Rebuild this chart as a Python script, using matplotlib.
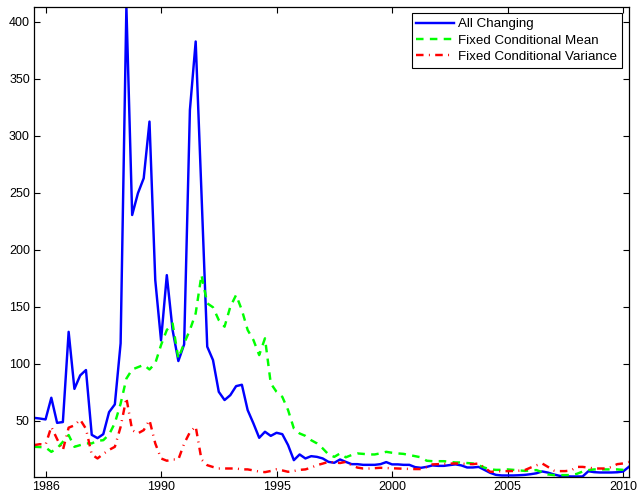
import numpy as np
import matplotlib
matplotlib.use('Agg')
import matplotlib.pyplot as plt

plt.rcParams['font.family'] = ['Liberation Sans', 'DejaVu Sans']

# quarterly series, first quarter 1984.5
start_year = 1984.5
all_changing = [52.6, 52, 51.2, 70.2, 48.2, 48.9, 128, 78, 89.8, 94.5,
                37.7, 34.8, 38.3, 57.6, 64.4, 117.9, 413, 230.4, 249.5, 262.6,
                312.3, 173.4, 120.5, 177.7, 129.6, 102.4, 117, 322.5, 382.5, 250,
                115, 103.2, 75.4, 68.2, 72.5, 80.4, 81.6, 59.4, 47.7, 35.1,
                40.4, 36.8, 39.5, 38.3, 28.7, 15.5, 20.5, 17, 19, 18.4,
                17, 14, 13.2, 16.1, 14, 12, 12, 11.4, 11.4, 11.4,
                12, 13.8, 11.8, 11.8, 11.4, 11.4, 9.4, 8.8, 9.6, 10.9,
                10.5, 10.5, 11.2, 11.8, 10.9, 9.1, 9.1, 9.6, 7, 4.4,
                2.6, 2.1, 2.1, 2.1, 2.3, 2.6, 3.2, 4, 5.6, 4.6,
                3, 1.8, 1.5, 1.2, 1.2, 1.2, 5.8, 5, 4.7, 4.7,
                4.7, 4.9, 5.5, 9.6]
fixed_mean = [27.2, 27, 26.7, 22.8, 25.8, 31.6, 37.5, 27.2, 28.7, 30.2,
              30.2, 32.5, 33, 38, 48, 65, 87, 95, 97, 99,
              95, 100.4, 116.4, 129.6, 135.4, 104.7, 117.9, 129.6, 144.2, 177.8,
              153, 149.5, 138.3, 132.5, 150, 160.3, 147, 129.6, 120.8, 107.6,
              122.3, 82.8, 75.4, 71, 59.4, 43.3, 38.9, 36.8, 33, 30.2,
              25.8, 20.5, 18.4, 21.4, 18, 20, 21.4, 21, 20.5, 20.5,
              21.5, 22.8, 22, 21.4, 21, 20, 19, 18, 15, 14.6,
              14.6, 14.6, 14, 13.5, 13.5, 13, 12.6, 11, 9, 7.4,
              7, 7, 7.4, 7, 6.5, 6.1, 6.5, 6.8, 5, 3,
              2.4, 2.4, 2.4, 2.4, 3.5, 5.5, 6.8, 7.4, 7.4, 7.4,
              7.4, 7.4, 7, 7]
fixed_var = [28.7, 29.5, 29, 44.7, 34, 24.3, 44, 46, 51, 43,
             20.5, 17, 21, 24.5, 27.2, 44.7, 70, 41.8, 39, 41.8,
             50.6, 30.2, 17, 15, 16.1, 16.1, 30, 40, 45, 16.1,
             11.1, 9.5, 8.2, 8.2, 8.2, 8.2, 7.4, 7.4, 6.5, 5.5,
             5, 6, 7.4, 6.5, 5.3, 6, 7, 7.4, 9, 11.1,
             12.5, 14, 13.5, 13, 14, 11.1, 9, 8.2, 8.2, 8.5,
             8.8, 8.6, 8.4, 8.2, 8, 7.8, 7.7, 7.7, 9.5, 11.8,
             12, 12.2, 12.5, 12.6, 12.4, 12.2, 12, 12.6, 9, 5.3,
             5.5, 5.9, 5.9, 6, 6.3, 6.8, 9, 11, 12.6, 9.6,
             6.5, 5.9, 5.9, 6.5, 9.6, 9.6, 9, 8.2, 8.2, 8.2,
             9.5, 12, 12.6, 14]

xtick_pos = [1985, 1990, 1995, 2000, 2005, 2010]
xtick_labels = ['1986', '1990', '1995', '2000', '2005', '2010']
ytick_pos = [50, 100, 150, 200, 250, 300, 350, 400]

dates = start_year + 0.25 * np.arange(len(all_changing))

fig = plt.figure(figsize=(6.39, 4.96), dpi=100)
ax = fig.add_axes([0.0532, 0.0389, 0.9308, 0.9476])

lw = 1.75
ax.plot(dates, all_changing, '-', color=(0, 0, 1), lw=lw, label='All Changing')
ax.plot(dates, fixed_mean, linestyle=(0, (3.1, 2.6)), color=(0, 1, 0), lw=lw,
        label='Fixed Conditional Mean')
ax.plot(dates, fixed_var, linestyle=(0, (3.1, 2.2, 0.4, 2.2)), color=(1, 0, 0), lw=lw,
        label='Fixed Conditional Variance')

ax.set_xlim(dates[0], dates[-1])
ax.set_ylim(1, 413)
ax.set_xticks(xtick_pos)
ax.set_xticklabels(xtick_labels)
ax.set_yticks(ytick_pos)
ax.tick_params(direction='in', top=True, right=True, length=4, width=0.8, labelsize=9, pad=3)
for s in ax.spines.values():
    s.set_linewidth(0.9)

leg = ax.legend(loc='upper right', fontsize=9.6, fancybox=False, edgecolor='black',
                framealpha=1, borderaxespad=0.5, handlelength=2.8, handletextpad=0.35,
                labelspacing=0.3, borderpad=0.35)
leg.get_frame().set_linewidth(0.8)

plt.savefig('out.png', dpi=100)
